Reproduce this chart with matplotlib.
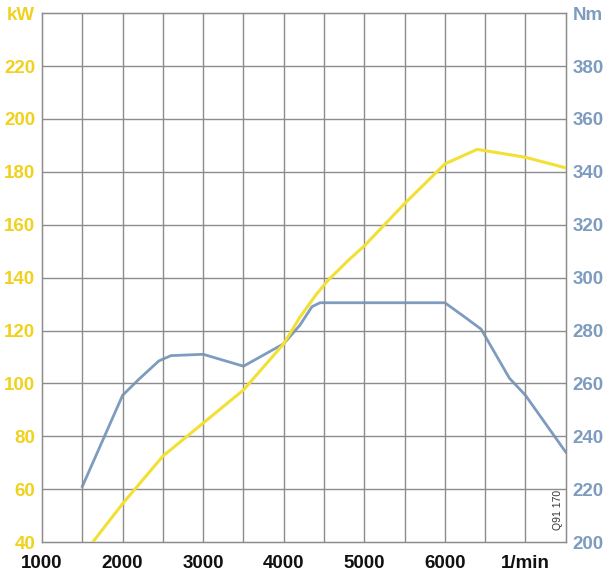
import matplotlib

matplotlib.use("Agg")
import matplotlib.pyplot as plt
from matplotlib import font_manager

# power curve (kW)
power_rpm = [1630, 2000, 2500, 3000, 3500, 4000, 4200, 4400, 4550, 4800, 5000, 5500, 6000, 6400, 7000, 7500]
power_kw = [40, 54.5, 72.5, 85, 97.5, 115, 125, 133.5, 139, 146.5, 152, 168, 183, 188.5, 185.5, 181.5]

# torque curve (Nm)
torque_rpm = [1500, 2000, 2200, 2450, 2600, 3000, 3500, 4000, 4200, 4350, 4450, 6000, 6250, 6450, 6800, 7000, 7500]
torque_nm = [221, 255.5, 261.5, 268.5, 270.5, 271, 266.5, 275, 282, 289, 290.5, 290.5, 285, 280.5, 262, 255.5, 234]

x_ticks = [1000, 2000, 3000, 4000, 5000, 6000, 7000]
x_labels = ["1000", "2000", "3000", "4000", "5000", "6000", "1/min"]
kw_ticks = [40, 60, 80, 100, 120, 140, 160, 180, 200, 220, 240]
kw_labels = ["40", "60", "80", "100", "120", "140", "160", "180", "200", "220", "kW"]
nm_ticks = [200, 220, 240, 260, 280, 300, 320, 340, 360, 380, 400]
nm_labels = ["200", "220", "240", "260", "280", "300", "320", "340", "360", "380", "Nm"]

YELLOW_LINE = "#f2e035"
YELLOW_TEXT = "#f0d21e"
BLUE = "#7d9cbf"
GRID = "#8c8c8c"

installed = {f.name for f in font_manager.fontManager.ttflist}
FONT = [n for n in ["Liberation Sans Narrow", "Liberation Sans", "DejaVu Sans"] if n in installed]

fig = plt.figure(figsize=(6.09, 5.73), dpi=100)
ax = fig.add_axes([0.069, 0.054, 0.86, 0.923])
ax2 = ax.twinx()

ax.set_xlim(1000, 7500)
ax.set_ylim(40, 240)
ax2.set_ylim(200, 400)

# grid
for x in range(1500, 7500, 500):
    ax.axvline(x, color=GRID, lw=1.0, zorder=1)
for y in range(60, 240, 20):
    ax.axhline(y, color=GRID, lw=1.0, zorder=1)
for side in ["left", "right", "top", "bottom"]:
    ax.spines[side].set_color(GRID)
    ax2.spines[side].set_color(GRID)
    ax2.spines[side].set_linewidth(1.0)

ax2.plot(torque_rpm, torque_nm, color=BLUE, lw=2.0, zorder=3)
ax.plot(power_rpm, power_kw, color=YELLOW_LINE, lw=2.2, zorder=4)
ax.set_zorder(ax2.get_zorder() + 1)
ax.patch.set_visible(False)

ax.set_xticks(x_ticks)
ax.set_xticklabels(x_labels, family=FONT, weight="bold", fontsize=13.5, color="#111111")
ax.set_yticks(kw_ticks)
ax.set_yticklabels(kw_labels, family=FONT, weight="bold", fontsize=13.5, color=YELLOW_TEXT)
ax2.set_yticks(nm_ticks)
ax2.set_yticklabels(nm_labels, family=FONT, weight="bold", fontsize=13.5, color=BLUE)

ax.tick_params(axis="x", length=0, pad=9)
ax.tick_params(axis="y", length=0, pad=5)
ax2.tick_params(axis="y", length=0, pad=5)

ax.text(7400, 52, "Q91 170", rotation=90, fontsize=7.5, color="#333333",
        family=FONT, ha="center", va="center")

fig.savefig("out.png", dpi=100)
